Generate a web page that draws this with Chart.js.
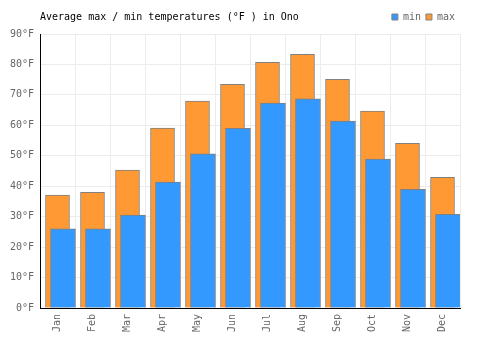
<!DOCTYPE html>
<html>
<head>
<meta charset="utf-8">
<script src="https://cdn.jsdelivr.net/npm/chart.js@4"></script>
<style>
  html, body { margin: 0; padding: 0; background: #fff; }
  #wrap { width: 500px; height: 350px; }
</style>
</head>
<body>
<div id="wrap"><canvas id="chart"></canvas></div>
<script>
// ==================== DATOS ====================
const meses = ['Jan', 'Feb', 'Mar', 'Apr', 'May', 'Jun', 'Jul', 'Aug', 'Sep', 'Oct', 'Nov', 'Dec'];
const tempMin = [26, 26, 30.5, 41.4, 50.6, 59, 67.3, 68.7, 61.4, 48.9, 39, 30.8];
const tempMax = [37.1, 38, 45.3, 59.1, 68, 73.5, 80.7, 83.3, 75.1, 64.7, 54.1, 42.9];
const ticksY = [0, 10, 20, 30, 40, 50, 60, 70, 80, 90];

const FUENTE = '"DejaVu Sans Mono", monospace';
const desplazamiento = 5.5 / 35; // blue bar sits a bit to the right

// ── Title drawn on the same line as the legend ──────────────
const tituloPlugin = {
    id: 'tituloOno',
    beforeInit(chart) {
        const fitOriginal = chart.legend.fit;
        chart.legend.fit = function () {
            fitOriginal.call(this);
            this.height += 2;
        };
    },
    afterDraw(chart) {
        const ctx = chart.ctx;
        ctx.save();
        ctx.font = '10px ' + FUENTE;
        ctx.fillStyle = '#000';
        ctx.textBaseline = 'middle';
        ctx.textAlign = 'left';
        ctx.fillText('Average max / min temperatures (°F ) in Ono', 40, 17);
        ctx.restore();
    }
};

new Chart(document.getElementById('chart'), {
    type: 'bar',
    data: {
        labels: meses,
        datasets: [
            {
                label: 'min',
                data: tempMin.map((v, i) => ({ x: i, y: v })),
                xAxisID: 'x2',
                backgroundColor: '#3399ff',
                borderColor: '#808080',
                borderWidth: 1,
                barThickness: 25,
                grouped: false,
                order: 0,
            },
            {
                label: 'max',
                data: tempMax,
                xAxisID: 'x',
                backgroundColor: '#ff9933',
                borderColor: '#808080',
                borderWidth: 1,
                barThickness: 24,
                grouped: false,
                order: 1,
            }
        ]
    },
    options: {
        responsive: true,
        maintainAspectRatio: false,
        animation: false,
        layout: { padding: { top: 7, left: 10, right: 40, bottom: 0 } },
        plugins: {
            legend: {
                position: 'top',
                align: 'end',
                labels: {
                    boxWidth: 6,
                    boxHeight: 6,
                    padding: 5,
                    color: '#666',
                    font: { family: FUENTE, size: 10 }
                }
            },
            tooltip: { enabled: false }
        },
        scales: {
            x: {
                type: 'category',
                offset: true,
                grid: { color: '#ececec', offset: true, drawTicks: false },
                border: { color: '#000', width: 1 },
                ticks: {
                    color: '#666',
                    padding: 6,
                    minRotation: 90,
                    maxRotation: 90,
                    font: { family: FUENTE, size: 10 }
                },
                afterFit: s => { s.height = 42; }
            },
            x2: {
                type: 'linear',
                display: false,
                offset: false,
                grid: { offset: false },
                min: -0.5 - desplazamiento,
                max: meses.length - 0.5 - desplazamiento,
                ticks: { stepSize: 1 }
            },
            y: {
                min: ticksY[0],
                max: ticksY[ticksY.length - 1],
                grid: { color: '#ececec', drawTicks: false },
                border: { color: '#000', width: 1 },
                afterBuildTicks: s => { s.ticks = ticksY.map(v => ({ value: v })); },
                ticks: {
                    color: '#666',
                    padding: 6,
                    font: { family: FUENTE, size: 10 },
                    callback: v => v + '°F'
                },
                afterFit: s => { s.width = 30; }
            }
        }
    },
    plugins: [tituloPlugin]
});
</script>
</body>
</html>
